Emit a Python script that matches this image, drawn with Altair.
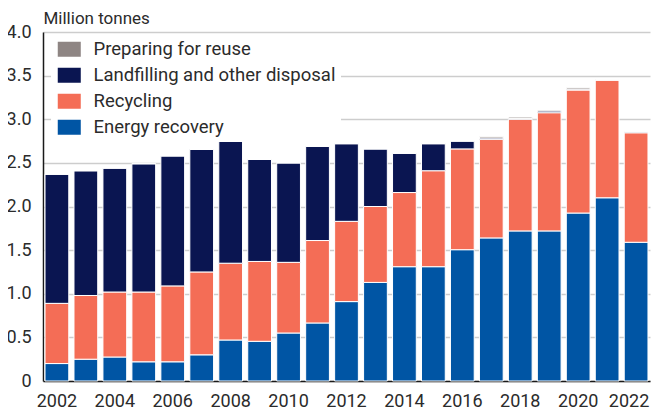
import altair as alt
import pandas as pd

years = list(range(2002, 2023))
energy_recovery = [0.20, 0.25, 0.275, 0.22, 0.22, 0.30, 0.47, 0.455, 0.55, 0.665, 0.91,
                   1.13, 1.31, 1.31, 1.505, 1.64, 1.72, 1.72, 1.925, 2.10, 1.59]
recycling = [0.69, 0.73, 0.745, 0.80, 0.87, 0.95, 0.88, 0.915, 0.81, 0.945, 0.92,
             0.87, 0.85, 1.10, 1.155, 1.13, 1.28, 1.355, 1.41, 1.35, 1.255]
landfilling = [1.48, 1.43, 1.42, 1.47, 1.49, 1.405, 1.40, 1.17, 1.14, 1.08, 0.89,
               0.66, 0.45, 0.31, 0.09, 0.015, 0.01, 0.02, 0.01, 0.0, 0.01]
reuse = [0.0, 0.0, 0.0, 0.0, 0.0, 0.0, 0.0, 0.0, 0.0, 0.0, 0.0,
         0.0, 0.0, 0.0, 0.0, 0.015, 0.015, 0.01, 0.015, 0.005, 0.005]

categories = ["Preparing for reuse", "Landfilling and other disposal", "Recycling", "Energy recovery"]
colors = ["#8e8583", "#0a1551", "#f46d56", "#0055a4"]
stack_rank = {"Energy recovery": 0, "Recycling": 1, "Landfilling and other disposal": 2, "Preparing for reuse": 3}
series = {
    "Energy recovery": energy_recovery,
    "Recycling": recycling,
    "Landfilling and other disposal": landfilling,
    "Preparing for reuse": reuse,
}
x_labels = list(range(2002, 2023, 2))

rows = []
for cat, vals in series.items():
    for y, v in zip(years, vals):
        rows.append({"year": y, "category": cat, "value": v, "rank": stack_rank[cat]})
df = pd.DataFrame(rows)

FONT = "Roboto"
TXT = "#2b2b2b"

chart = alt.Chart(df).mark_bar(stroke="white", strokeWidth=1).encode(
    x=alt.X("year:O", title=None,
            scale=alt.Scale(paddingInner=0.18, paddingOuter=0.07),
            axis=alt.Axis(values=x_labels, labelAngle=0, ticks=False, tickSize=0,
                          labelPadding=11, labelFontSize=18, labelColor=TXT,
                          labelOffset={"condition": {"test": "datum.value == 2022", "value": -7}, "value": 0},
                          domainColor="#1a1a1a", domainWidth=1.5, grid=False)),
    y=alt.Y("value:Q", title="Million tonnes", stack="zero",
            scale=alt.Scale(domain=[0, 4], nice=False),
            axis=alt.Axis(values=[0, 0.5, 1, 1.5, 2, 2.5, 3, 3.5, 4],
                          labelExpr="datum.value == 0 ? '0' : format(datum.value, '.1f')",
                          ticks=False, tickSize=0, labelPadding=12, labelFontSize=18,
                          labelColor=TXT, domainColor="#1a1a1a", domainWidth=1.5,
                          gridColor="#cdcdcd", gridWidth=1.5,
                          titleAngle=0, titleAlign="left", titleBaseline="alphabetic",
                          titleX=0, titleY=-9, titleFontSize=17, titleFontWeight="normal",
                          titleColor=TXT)),
    color=alt.Color("category:N", title=None,
                    scale=alt.Scale(domain=categories, range=colors),
                    legend=alt.Legend(orient="none", legendX=8, legendY=3, padding=5,
                                      fillColor="white", labelFontSize=18.5, labelColor=TXT,
                                      symbolType="M-1,-1H2.07V1H-1Z", symbolSize=225,
                                      symbolStrokeWidth=0, symbolOpacity=1,
                                      rowPadding=7, labelOffset=19, labelLimit=400)),
    order=alt.Order("rank:Q", sort="ascending"),
).properties(
    width=607, height=349,
    padding={"left": 35, "top": 24, "right": 2, "bottom": 28},
    autosize=alt.AutoSizeParams(type="none"),
).configure(
    font=FONT,
).configure_view(stroke=None)

chart.save("out.html", embed_options={"renderer": "svg", "actions": False})
